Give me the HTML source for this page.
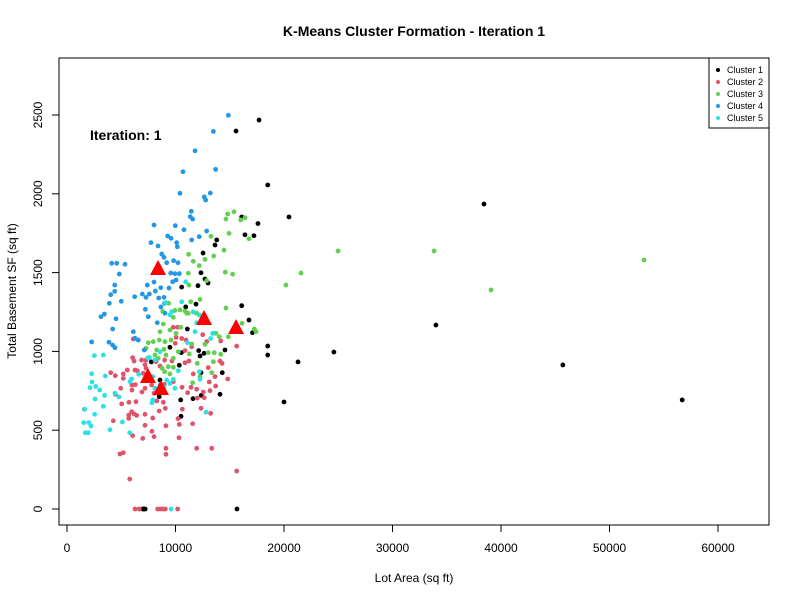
<!DOCTYPE html>
<html><head><meta charset="utf-8">
<style>
html,body{margin:0;padding:0;background:#fff;}
svg{display:block;font-family:"Liberation Sans",Arial,sans-serif;}
</style></head>
<body>
<svg id="chart" width="800" height="600" viewBox="0 0 800 600">
<rect x="0" y="0" width="800" height="600" fill="#fff"/>
<text x="414" y="36" text-anchor="middle" font-size="14" font-weight="bold">K-Means Cluster Formation - Iteration 1</text>
<rect x="59" y="58" width="710" height="467" fill="none" stroke="#000" stroke-width="1"/>
<g id="xaxis"></g>
<g id="yaxis"></g>
<text x="414" y="582" text-anchor="middle" font-size="12">Lot Area (sq ft)</text>
<text x="16" y="291" text-anchor="middle" font-size="12" transform="rotate(-90 16 291)">Total Basement SF (sq ft)</text>
<text x="90" y="140" font-size="14" font-weight="bold">Iteration: 1</text>
<g id="points"></g>
<g id="centroids"></g>
<g id="legend">
<rect x="709" y="58" width="60" height="70" fill="#fff" stroke="#000" stroke-width="1"/>
</g>
</svg>
<script>
const xTicks=[0,10000,20000,30000,40000,50000,60000];
const yTicks=[0,500,1000,1500,2000,2500];
const clusterNames=["Cluster 1","Cluster 2","Cluster 3","Cluster 4","Cluster 5"];
const clusterColors=["#000000","#DF536B","#61D04F","#2297E6","#28E2E5"];
const cluster1=[[15580,2398],[17700,2468],[18500,2056],[20460,1853],[38430,1935],[34000,1167],[24600,996],[21290,933],[18500,1034],[18500,977],[20000,679],[45700,914],[56700,692],[15670,0],[7000,0],[7200,0],[16100,1853],[17600,1811],[16400,1740],[17230,1734],[13800,1707],[13640,1675],[12540,1624],[12350,1499],[12720,1459],[13000,1434],[12070,1417],[10570,1408],[10940,1282],[11890,1300],[16100,1290],[16770,1199],[17100,1119],[11090,1142],[9490,1026],[10540,992],[12140,1005],[12260,971],[12630,988],[14560,1009],[7770,933],[10350,912],[14310,865],[12350,865],[8570,818],[8500,713],[10480,692],[11610,700],[12380,721],[14100,728],[10510,588],[7040,0]];
const cluster2=[[6110,1079],[9800,1153],[10200,1153],[10050,1089],[9980,1051],[10570,1082],[10970,1072],[12510,1106],[14170,1066],[15640,1034],[6050,960],[6180,939],[6880,945],[7280,945],[7190,916],[8200,935],[9000,945],[9680,939],[8570,907],[10880,928],[11240,939],[13020,897],[14100,939],[14290,924],[4030,865],[4450,846],[5190,857],[5190,829],[5560,882],[6270,882],[6480,877],[7030,861],[7280,893],[5990,787],[6300,789],[5990,755],[6910,742],[7190,766],[7800,787],[8970,791],[9800,808],[10600,772],[11120,738],[11430,772],[11950,760],[12560,742],[13110,806],[13180,751],[13640,840],[13700,780],[14810,825],[4950,766],[4450,728],[5040,667],[5710,677],[6360,681],[8020,734],[8270,686],[8880,677],[9060,639],[8500,622],[10630,633],[12010,704],[12650,706],[12350,639],[13240,607],[5960,617],[6180,603],[6420,594],[5690,596],[5690,575],[7190,601],[7900,577],[10230,573],[4270,560],[7190,531],[9120,528],[10350,537],[11580,541],[6050,465],[6980,448],[7830,493],[8020,459],[10320,452],[9120,385],[9120,347],[11950,385],[13340,385],[4880,349],[5190,357],[15640,241],[5780,190],[6270,0],[6660,0],[8360,0],[8640,0],[8880,0],[9060,0],[10200,0],[1600,633],[7400,857],[11640,857],[10880,1005],[11490,1030],[12870,1062]];
const cluster3=[[14650,1840],[14810,1872],[15390,1886],[16400,1848],[16010,1834],[16770,1715],[14930,1749],[13270,1730],[14470,1643],[13520,1605],[12720,1584],[12190,1544],[11640,1572],[11210,1616],[11180,1496],[11240,1421],[12870,1449],[14590,1503],[15270,1490],[12260,1330],[11400,1315],[14650,1275],[9370,1305],[8820,1254],[9950,1260],[10410,1263],[10880,1256],[11180,1242],[9800,1216],[11030,1242],[11950,1242],[8880,1174],[9490,1136],[10050,1115],[10480,1153],[8570,1125],[7490,1055],[7950,1062],[8500,1072],[9030,1062],[9590,1072],[11490,1047],[12720,1045],[13490,1115],[13730,1115],[14040,1093],[14870,1093],[16130,1178],[17260,1142],[17420,1125],[7280,1020],[8270,1009],[8940,1013],[9120,977],[8110,977],[8410,956],[9800,956],[10260,998],[11270,984],[12010,924],[13020,992],[13580,992],[14170,982],[13490,935],[8760,893],[9340,903],[9800,899],[9000,871],[9490,857],[12260,840],[13340,865],[11580,801],[53180,1580],[39080,1390],[33830,1637],[24980,1637],[21570,1497],[20180,1421]];
const cluster4=[[14870,2498],[13490,2396],[11800,2273],[13700,2155],[10690,2140],[10410,2003],[13210,2005],[12650,1980],[12780,1960],[11460,1889],[11360,1855],[11580,1840],[8020,1802],[9980,1798],[10780,1772],[12870,1764],[9280,1732],[9590,1718],[10110,1690],[7740,1690],[8390,1669],[10170,1664],[11490,1707],[12190,1728],[8730,1618],[8940,1597],[9190,1563],[9830,1576],[10230,1563],[4120,1559],[4580,1559],[5350,1553],[4820,1491],[9560,1497],[9950,1493],[10350,1493],[10050,1453],[9740,1442],[8020,1440],[7400,1421],[4400,1421],[4400,1381],[4030,1360],[6240,1347],[6940,1364],[7280,1343],[7590,1364],[8140,1383],[8640,1404],[9400,1402],[8450,1339],[8940,1343],[3900,1305],[5000,1318],[8660,1282],[7220,1267],[9000,1305],[3130,1220],[3440,1237],[4520,1207],[7490,1220],[9030,1242],[4210,1142],[6110,1125],[6570,1072],[8320,1182],[2270,1060],[3870,1058],[4210,1040],[4420,1023],[7120,1009],[6270,1083]];
const cluster5=[[2520,973],[3350,977],[2270,858],[2300,806],[2640,778],[2120,770],[3010,755],[3470,721],[4420,734],[2580,698],[4790,711],[3350,652],[1630,633],[2550,601],[1540,548],[2000,548],[2210,527],[1690,484],[1960,484],[3960,503],[5100,552],[5780,484],[3530,844],[5960,825],[6610,855],[9590,0],[7900,692],[7830,674],[8110,766],[8570,785],[8940,772],[9190,818],[9800,823],[9950,766],[9490,797],[7900,840],[8110,945],[7590,962],[8570,998],[10260,877],[12190,871],[12260,823],[11950,1182],[11800,1125],[11090,1055],[13420,1114],[13240,1082],[12810,614],[5810,808],[10570,1315],[9100,1309],[7440,958],[9490,1231],[10940,1442],[11640,1250],[9650,1252],[12190,1231]];
const centroidsX=[8390,12630,15580,7460,8660];
const centroidsY=[1529,1212,1155,844,768];

const NS="http://www.w3.org/2000/svg";
const xs=v=>67+v*(718-67)/60000;
const ys=v=>509-v*(509-115)/2500;
function mk(tag,attrs,parent){const e=document.createElementNS(NS,tag);for(const k in attrs)e.setAttribute(k,attrs[k]);parent.appendChild(e);return e;}

const xa=document.getElementById('xaxis');
mk('line',{x1:xs(xTicks[0]),x2:xs(xTicks[xTicks.length-1]),y1:525,y2:525,stroke:'#000'},xa);
xTicks.forEach(t=>{
  const l=mk('line',{x1:xs(t),x2:xs(t),y1:525,y2:532,stroke:'#000'},xa);
  
  
  const tx=mk('text',{x:xs(t),y:552,'text-anchor':'middle','font-size':12},xa);
  tx.textContent=t;
  
  
});
const ya=document.getElementById('yaxis');
mk('line',{x1:59,x2:59,y1:ys(yTicks[0]),y2:ys(yTicks[yTicks.length-1]),stroke:'#000'},ya);
yTicks.forEach(t=>{
  const l=mk('line',{x1:52,x2:59,y1:ys(t),y2:ys(t),stroke:'#000'},ya);
  
  
  const tx=mk('text',{x:42,y:ys(t),'text-anchor':'middle','font-size':12,transform:`rotate(-90 42 ${ys(t)})`},ya);
  tx.textContent=t;
  
  
});

const pg=document.getElementById('points');
[cluster1,cluster2,cluster3,cluster4,cluster5].forEach((arr,i)=>{
  arr.forEach(p=>{
    const c=mk('circle',{cx:xs(p[0]),cy:ys(p[1]),r:2.4,fill:clusterColors[i]},pg);
    
    
  });
});
const cg=document.getElementById('centroids');
centroidsX.forEach((v,i)=>{
  const cx=xs(v),cy=ys(centroidsY[i]);
  const t=mk('polygon',{points:`${cx-8},${cy+7} ${cx+8},${cy+7} ${cx},${cy-8}`,fill:'#FF0000'},cg);
  
  
});
const lg=document.getElementById('legend');
clusterNames.forEach((n,i)=>{
  const y=70+i*12;
  const c=mk('circle',{cx:718,cy:y,r:2,fill:clusterColors[i]},lg);
  
  
  const t=mk('text',{x:727,y:y+3,'font-size':9},lg);
  t.textContent=n;
  
  
});
</script>
</body></html>
